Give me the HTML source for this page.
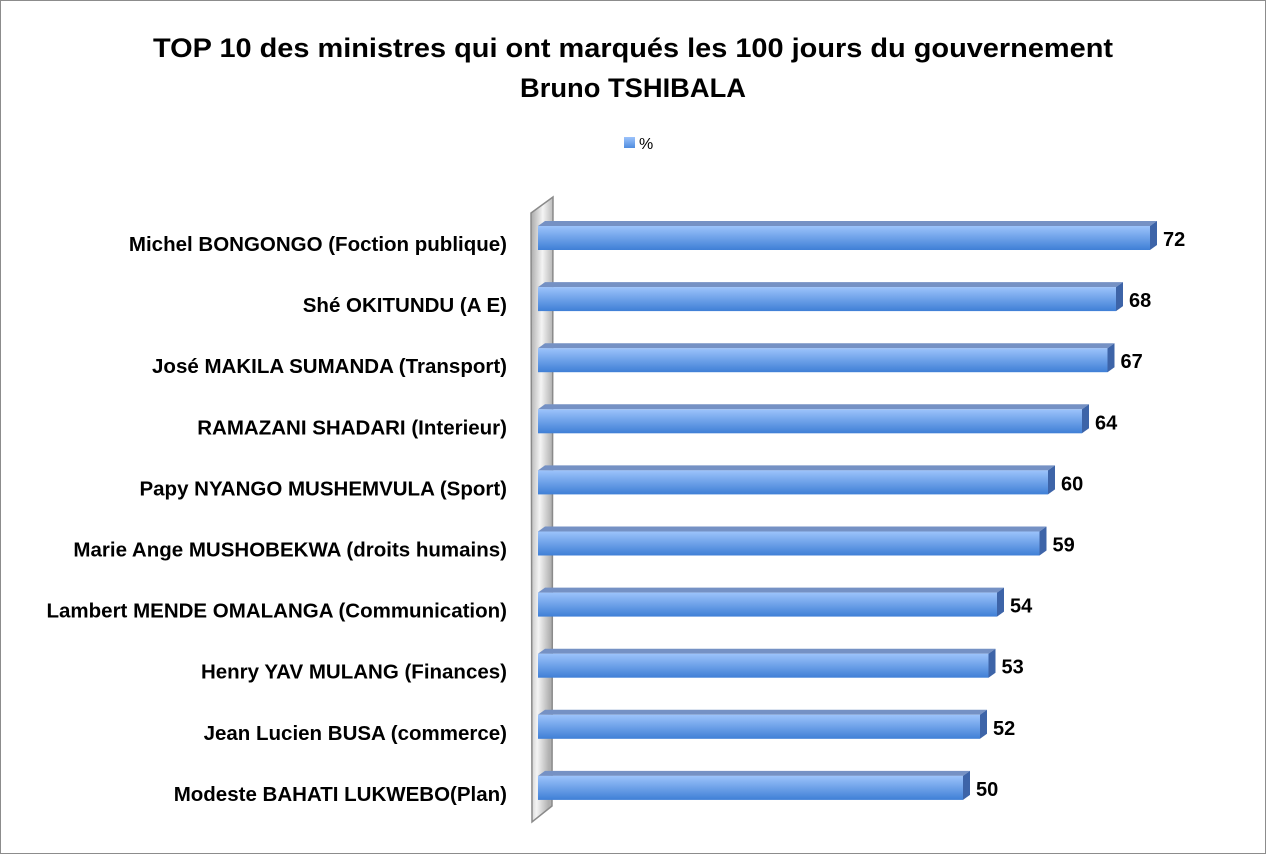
<!DOCTYPE html>
<html><head><meta charset="utf-8"><style>
body{margin:0;background:#fff;}
svg{display:block;font-family:"Liberation Sans",Arial,sans-serif;}
</style></head><body>
<svg id="chart" width="1267" height="855" viewBox="0 0 1267 855">
<defs>
<linearGradient id="front" x1="0" y1="0" x2="0" y2="1"><stop offset="0" stop-color="#9cc3fb"/><stop offset="1" stop-color="#3f7fd6"/></linearGradient>
<linearGradient id="wall" x1="0" y1="0" x2="1" y2="0.3"><stop offset="0" stop-color="#a8a8a8"/><stop offset="0.5" stop-color="#f4f4f4"/><stop offset="1" stop-color="#b0b0b0"/></linearGradient>
<linearGradient id="leg" x1="0" y1="0" x2="0" y2="1"><stop offset="0" stop-color="#9cc3fb"/><stop offset="1" stop-color="#4f8ddf"/></linearGradient>
</defs>
<rect x="0.5" y="0.5" width="1265" height="853" fill="#fff" stroke="#8c8c8c"/>
<text x="633" y="57" text-anchor="middle" font-size="27" font-weight="bold" textLength="960" lengthAdjust="spacingAndGlyphs">TOP 10 des ministres qui ont marqués les 100 jours du gouvernement</text>
<text x="633" y="97" text-anchor="middle" font-size="27" font-weight="bold" textLength="226" lengthAdjust="spacingAndGlyphs">Bruno TSHIBALA</text>
<rect x="624" y="137" width="11" height="11" fill="url(#leg)"/>
<text x="639" y="149" font-size="16">%</text>
<polygon points="531,213 553,197 552,806 532,822" fill="url(#wall)" stroke="#8a8a8a" stroke-width="1.5"/>
<g id="bars"></g>
</svg>
<script>
const categories=["Michel BONGONGO (Foction publique)","Shé OKITUNDU (A E)","José MAKILA SUMANDA (Transport)","RAMAZANI SHADARI (Interieur)","Papy NYANGO MUSHEMVULA (Sport)","Marie Ange MUSHOBEKWA (droits humains)","Lambert MENDE OMALANGA (Communication)","Henry YAV MULANG (Finances)","Jean Lucien BUSA (commerce)","Modeste BAHATI LUKWEBO(Plan)"];
const values=[72,68,67,64,60,59,54,53,52,50];
const x0=538, scale=8.5, y0=226, step=61.1, bh=24, dx=7, dy=5;
const xs=v=>x0+v*scale;
const ys=i=>y0+i*step;
const g=document.getElementById('bars');
const NS='http://www.w3.org/2000/svg';
function mk(t,a){const e=document.createElementNS(NS,t);for(const k in a)e.setAttribute(k,a[k]);return e;}
values.forEach((v,i)=>{
 const y=ys(i), x1=xs(v);
 const top=mk('polygon',{points:`${x0},${y} ${x0+dx},${y-dy} ${x1+dx},${y-dy} ${x1},${y}`,fill:'#7591c4'});
 
 
 g.appendChild(top);
 const side=mk('polygon',{points:`${x1},${y} ${x1+dx},${y-dy} ${x1+dx},${y+bh-dy} ${x1},${y+bh}`,fill:'#3d64a8'});
 
 
 g.appendChild(side);
 const fr=mk('rect',{x:x0,y:y,width:x1-x0,height:bh,fill:'url(#front)'});
 
 
 g.appendChild(fr);
 const vl=mk('text',{x:x1+dx+6,y:y+bh/2+8,'font-size':20,'font-weight':'bold'});
 vl.textContent=v;
 
 
 g.appendChild(vl);
 const cl=mk('text',{x:507,y:y+bh/2+13,'font-size':20.5,'font-weight':'bold','text-anchor':'end'});
 cl.textContent=categories[i];
 
 
 g.appendChild(cl);
});
</script>
</body></html>
